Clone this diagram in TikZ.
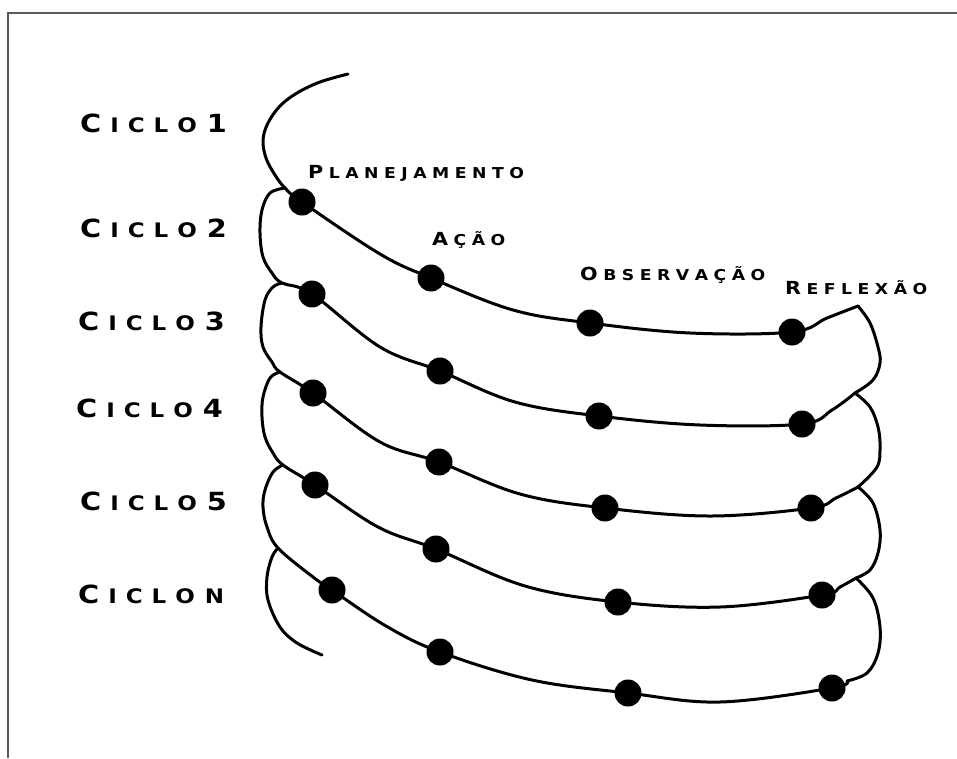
\documentclass[tikz,border=0pt]{standalone}
\usepackage{fontspec}
\newfontfamily\ciclofont[FakeStretch=1.15]{DejaVu Sans}
\newfontfamily\stagefont[FakeStretch=1.15]{DejaVu Sans}
\newcommand\CB{\fontsize{25}{25}\selectfont}
\newcommand\CS{\fontsize{20}{20}\selectfont}
\newcommand\SB{\fontsize{18}{18}\selectfont}
\newcommand\SSm{\fontsize{15}{15}\selectfont}
\makeatletter
\newcommand\spaced[2]{\@tfor\sp@c:=#2\do{\sp@c\kern#1}}
\makeatother
\newcommand\cic[1]{\CB C\kern9pt\CS I\kern9pt C\kern9pt L\kern9pt O\hspace*{10pt}#1}
\newcommand\stg[2]{\SB#1\kern5.5pt\SSm\spaced{5.5pt}{#2}}
\definecolor{framecol}{RGB}{90,90,90}
\tikzset{
  dotnode/.style={circle,fill=black,draw=none,minimum size=27pt,inner sep=0pt},
  curveline/.style={line width=3pt,line cap=round,line join=round,black},
  ciclolbl/.style={anchor=base west,inner sep=0pt,font=\ciclofont\bfseries},
  stagelbl/.style={anchor=base west,inner sep=0pt,font=\stagefont\bfseries},
}
\begin{document}
\begin{tikzpicture}[x=1pt,y=-1pt]
\useasboundingbox (0,0) rectangle (957,758);
\draw[framecol,line width=2.5pt] (8,758) -- (8,13) -- (957,13);

% labels
\node[ciclolbl] (c1) at (80,132) {\cic{\CB 1}};
\node[ciclolbl] (c2) at (80,237) {\cic{\CB 2}};
\node[ciclolbl] (c3) at (78,330) {\cic{\CB 3}};
\node[ciclolbl] (c4) at (76,417) {\cic{\CB 4}};
\node[ciclolbl] (c5) at (80,510) {\cic{\CB 5}};
\node[ciclolbl] (cn) at (78,603) {\cic{\CS N}};

\node[stagelbl] (lpl) at (308,178) {\stg{P}{LANEJAMENTO}};
\node[stagelbl] (lac) at (432,245) {\stg{A}{ÇÃO}};
\node[stagelbl] (lob) at (580,280) {\stg{O}{BSERVAÇÃO}};
\node[stagelbl] (lre) at (785,294) {\stg{R}{EFLEXÃO}};

% junctions
\coordinate (L1) at (285,188);
\coordinate (L2) at (282,283);
\coordinate (L3) at (280,372);
\coordinate (L4) at (283,465);
\coordinate (L5) at (278,548);
\coordinate (T1) at (858,306);
\coordinate (R2) at (855,393);
\coordinate (R3) at (858,487);
\coordinate (R4) at (856,578);
\coordinate (R5) at (847,681);
\coordinate (top) at (348,74);
\coordinate (bot) at (322,655);

% dots
\node[dotnode] (p1) at (302,202) {};
\node[dotnode] (a1) at (431,278) {};
\node[dotnode] (o1) at (590,323) {};
\node[dotnode] (r1) at (792,332) {};
\node[dotnode] (p2) at (312,294) {};
\node[dotnode] (a2) at (440,371) {};
\node[dotnode] (o2) at (599,416) {};
\node[dotnode] (r2) at (802,424) {};
\node[dotnode] (p3) at (313,393) {};
\node[dotnode] (a3) at (439,462) {};
\node[dotnode] (o3) at (605,508) {};
\node[dotnode] (r3) at (811,508) {};
\node[dotnode] (p4) at (315,485) {};
\node[dotnode] (a4) at (436,549) {};
\node[dotnode] (o4) at (618,602) {};
\node[dotnode] (r4) at (822,595) {};
\node[dotnode] (p5) at (332,590) {};
\node[dotnode] (a5) at (440,652) {};
\node[dotnode] (o5) at (628,693) {};
\node[dotnode] (r5) at (832,688) {};

% coil 1 with top tail
\draw[curveline] plot[smooth,tension=0.6] coordinates {(top) (320,82) (297,93) (280,106) (268,123) (263,140) (266,158) (275,175) (L1) (p1.center) (380,254) (a1.center) (513,310) (o1.center) (690,333) (r1.center) (827,318) (T1)};
% coil 2
\draw[curveline] plot[smooth,tension=0.6] coordinates {(L1) (270,193) (262,210) (260,233) (263,257) (272,273) (L2) (p2.center) (380,347) (a2.center) (515,402) (o2.center) (700,425) (r2.center) (832,410) (R2)};
% coil 3
\draw[curveline] plot[smooth,tension=0.6] coordinates {(L2) (273,287) (265,300) (261,327) (263,347) (272,362) (L3) (p3.center) (380,442) (a3.center) (520,494) (o3.center) (710,516) (r3.center) (836,498) (R3)};
% coil 4
\draw[curveline] plot[smooth,tension=0.6] coordinates {(L3) (270,378) (263,397) (262,417) (265,437) (273,453) (L4) (p4.center) (378,527) (a4.center) (525,586) (o4.center) (720,607) (r4.center) (840,587) (R4)};
% coil 5
\draw[curveline] plot[smooth,tension=0.6] coordinates {(L4) (273,472) (265,490) (263,507) (267,527) (L5) (313,577) (p5.center) (386,626) (a5.center) (532,680) (o5.center) (720,702) (r5.center) (R5)};
% bottom tail
\draw[curveline] plot[smooth,tension=0.6] coordinates {(L5) (272,557) (267,577) (268,600) (280,627) (297,643) (bot)};
% right arcs
\draw[curveline] plot[smooth,tension=0.6] coordinates {(T1) (870,323) (878,347) (880,363) (873,380) (R2)};
\draw[curveline] plot[smooth,tension=0.6] coordinates {(R2) (870,407) (878,427) (880,447) (877,467) (R3)};
\draw[curveline] plot[smooth,tension=0.6] coordinates {(R3) (873,503) (880,530) (878,553) (870,570) (R4)};
\draw[curveline] plot[smooth,tension=0.6] coordinates {(R4) (873,598) (880,627) (878,653) (867,673) (R5)};
\end{tikzpicture}
\end{document}
